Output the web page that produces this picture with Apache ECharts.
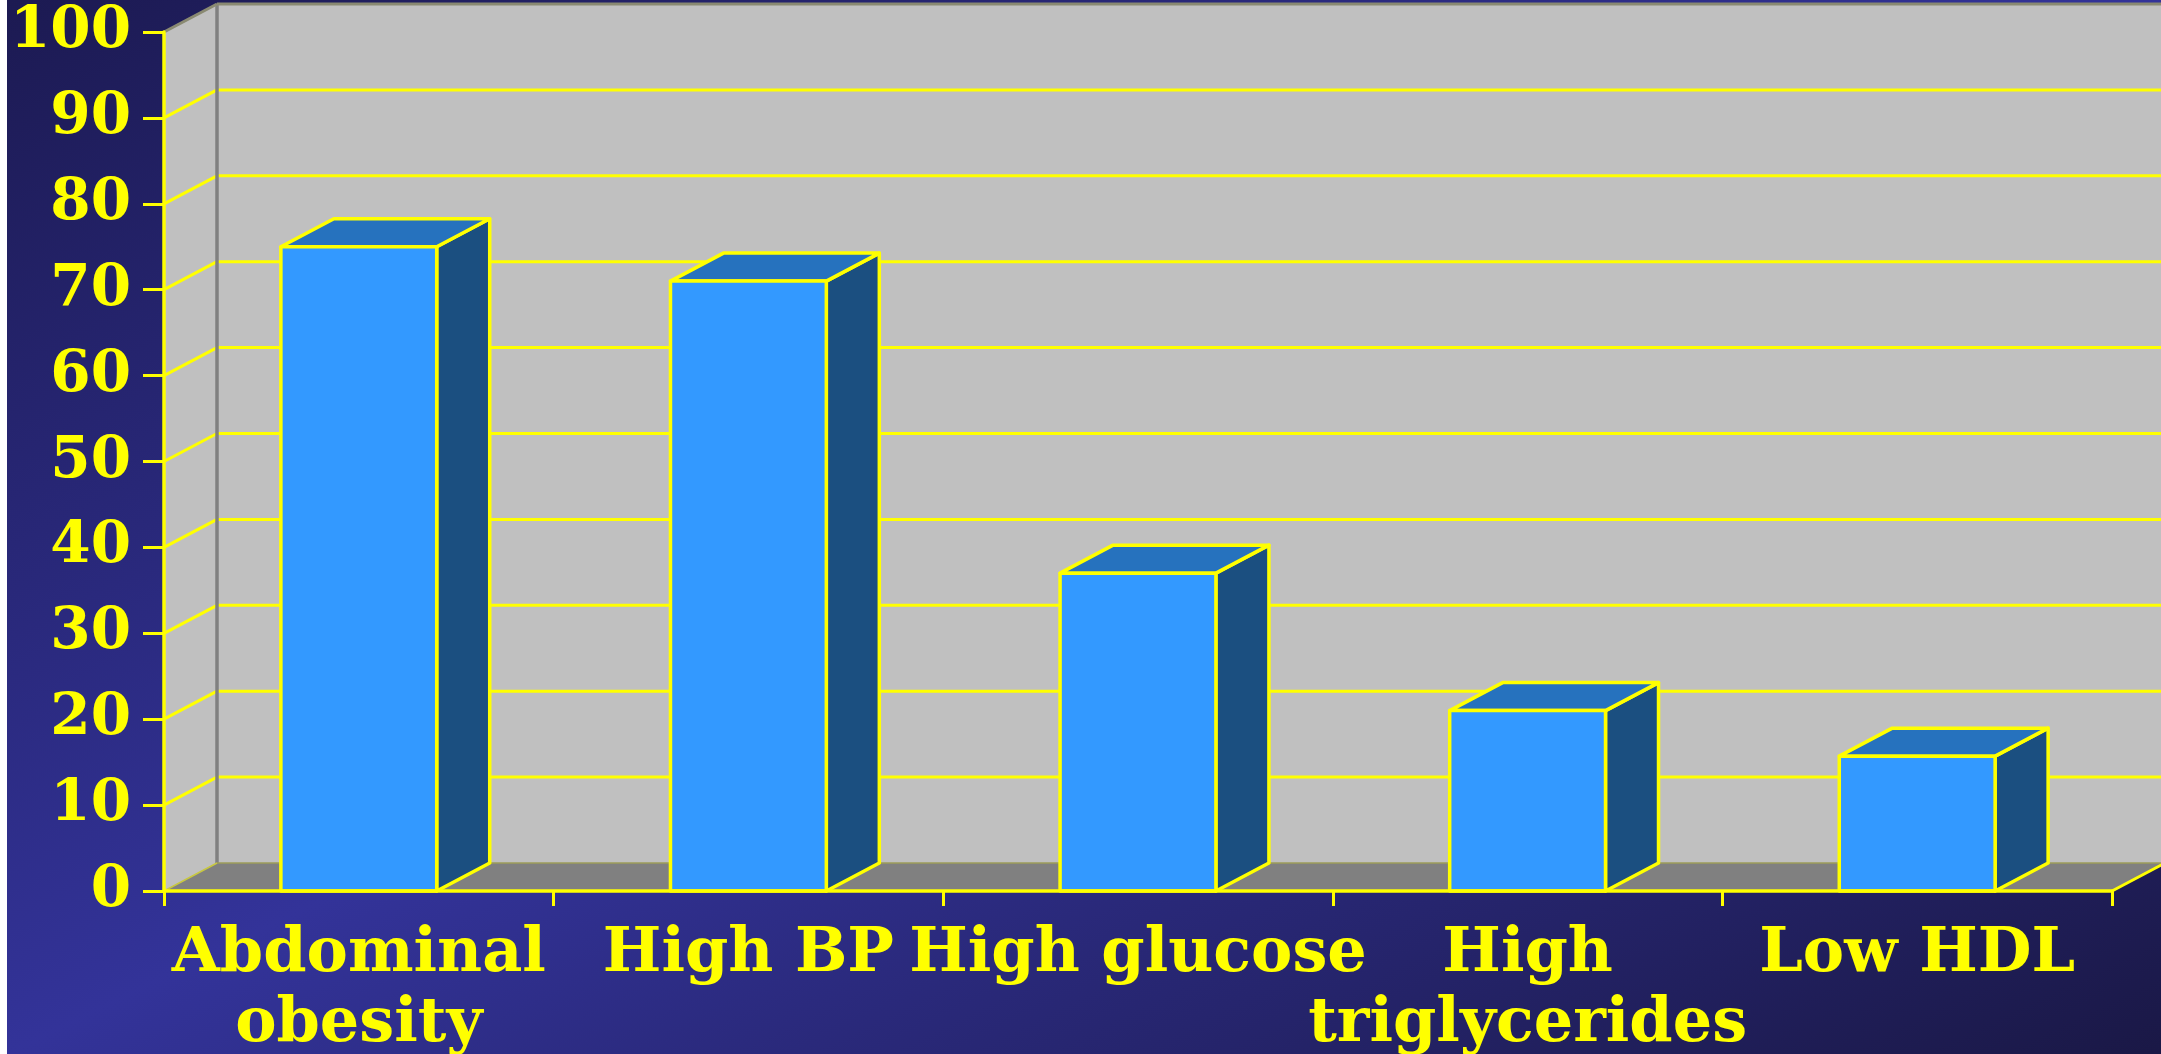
<!DOCTYPE html>
<html>
<head>
<meta charset="utf-8">
<script src="https://cdn.jsdelivr.net/npm/echarts@6/dist/echarts.min.js"></script>
<style>
html,body{margin:0;padding:0;background:#ffffff;overflow:hidden;width:2161px;height:1054px}
#chart{position:absolute;left:7px;top:0;width:2154px;height:1054px}
</style>
</head>
<body>
<div id="chart"></div>
<script>
// ---- data ----
const categories = ['Abdominal\nobesity', 'High BP', 'High glucose', 'High\ntriglycerides', 'Low HDL'];
const values = [75, 71, 37, 21, 15.7];
const yMin = 0;
const yMax = 100;
const yStep = 10;
const gridValues = [10, 20, 30, 40, 50, 60, 70, 80, 90];

// ---- style constants ----
const DX = 53, DY = 28;           // 3D depth offset
const YELLOW = '#FFFF00';
const FONT = 'DejaVu Serif';

const chart = echarts.init(document.getElementById('chart'), null, {renderer: 'canvas'});

function renderWalls(params, api) {
  const cs = params.coordSys;
  const x0 = cs.x, x1 = cs.x + cs.width;
  const yb = api.coord([0, yMin])[1];
  const yt = api.coord([0, yMax])[1];
  return {
    type: 'group',
    children: [
      {type: 'polygon', shape: {points: [[x0 + DX, yt - DY], [x1 + DX + 10, yt - DY], [x1 + DX + 10, yb - DY], [x0 + DX, yb - DY]]},
       style: {fill: '#C0C0C0'}},
      {type: 'polygon', shape: {points: [[x0, yt], [x0 + DX, yt - DY], [x0 + DX, yb - DY], [x0, yb]]},
       style: {fill: '#C0C0C0'}},
      {type: 'polygon', shape: {points: [[x0, yb], [x1, yb], [x1 + DX, yb - DY], [x0 + DX, yb - DY]]},
       style: {fill: '#808080'}}
    ]
  };
}

function renderGridLine(params, api) {
  const cs = params.coordSys;
  const x0 = cs.x, x1 = cs.x + cs.width;
  const y = api.coord([0, api.value(1)])[1];
  return {
    type: 'group',
    children: [
      {type: 'line', shape: {x1: x0, y1: y, x2: x0 + DX, y2: y - DY}, style: {stroke: YELLOW, lineWidth: 3}},
      {type: 'line', shape: {x1: x0 + DX, y1: y - DY, x2: x1 + DX + 10, y2: y - DY}, style: {stroke: YELLOW, lineWidth: 3}}
    ]
  };
}

function renderEdges(params, api) {
  const cs = params.coordSys;
  const x0 = cs.x, x1 = cs.x + cs.width;
  const yb = api.coord([0, yMin])[1];
  const yt = api.coord([0, yMax])[1];
  return {
    type: 'group',
    children: [
      {type: 'line', shape: {x1: x0 + DX, y1: yt - DY, x2: x0 + DX, y2: yb - DY}, style: {stroke: '#808080', lineWidth: 3.5}},
      {type: 'line', shape: {x1: x0, y1: yt, x2: x0 + DX, y2: yt - DY}, style: {stroke: '#8A8A72', lineWidth: 3}},
      {type: 'line', shape: {x1: x0 + DX, y1: yt - DY, x2: x1 + DX + 10, y2: yt - DY}, style: {stroke: '#8A8A72', lineWidth: 3}},
      {type: 'line', shape: {x1: x0 + DX, y1: yb - DY, x2: x1 + DX + 10, y2: yb - DY}, style: {stroke: '#9C9C5A', lineWidth: 1.5}},
      {type: 'line', shape: {x1: x0, y1: yb, x2: x0 + DX, y2: yb - DY}, style: {stroke: '#C8C840', lineWidth: 1.5}},
      {type: 'line', shape: {x1: x1, y1: yb, x2: x1 + DX, y2: yb - DY}, style: {stroke: YELLOW, lineWidth: 3}}
    ]
  };
}

function renderBar(params, api) {
  const i = api.value(0);
  const v = api.value(1);
  const top = api.coord([i, v]);
  const base = api.coord([i, yMin]);
  const bw = api.size([1, 0])[0] * 0.4;
  const l = top[0] - bw / 2, r = top[0] + bw / 2;
  const t = top[1], b = base[1];
  const stroke = {stroke: YELLOW, lineWidth: 3.5, lineJoin: 'round'};
  return {
    type: 'group',
    children: [
      {type: 'polygon', shape: {points: [[r, t], [r + DX, t - DY], [r + DX, b - DY], [r, b]]},
       style: Object.assign({fill: '#1B4F80'}, stroke)},
      {type: 'polygon', shape: {points: [[l, t], [r, t], [r + DX, t - DY], [l + DX, t - DY]]},
       style: Object.assign({fill: '#2672BE'}, stroke)},
      {type: 'rect', shape: {x: l, y: t, width: bw, height: b - t},
       style: Object.assign({fill: '#3399FF'}, stroke)}
    ]
  };
}

const option = {
  animation: false,
  backgroundColor: {
    type: 'linear', global: true, x: 0, y: 0, x2: 832, y2: 1701,
    colorStops: [
      {offset: 0, color: '#1C1A52'},
      {offset: 0.5, color: '#333399'},
      {offset: 1, color: '#1A1846'}
    ]
  },
  grid: {left: 157, right: 49, top: 32, bottom: 163, outerBoundsMode: 'none', containLabel: false},
  xAxis: {
    type: 'category',
    data: categories,
    z: 10,
    boundaryGap: true,
    axisLine: {show: true, lineStyle: {color: YELLOW, width: 3.5}},
    axisTick: {show: true, length: 15, interval: 0, lineStyle: {color: YELLOW, width: 3}},
    axisLabel: {
      interval: 0, color: YELLOW, fontFamily: FONT, fontWeight: 'bold', fontSize: 62,
      lineHeight: 70, margin: 29, hideOverlap: false
    },
    splitLine: {show: false}
  },
  yAxis: {
    type: 'value',
    min: yMin, max: yMax, interval: yStep,
    z: 10,
    axisLine: {show: true, lineStyle: {color: YELLOW, width: 3.5}},
    axisTick: {show: true, length: 21, lineStyle: {color: YELLOW, width: 3}},
    axisLabel: {color: YELLOW, fontFamily: FONT, fontWeight: 'bold', fontSize: 58, margin: 33},
    splitLine: {show: false}
  },
  series: [
    {type: 'custom', name: 'walls', z: 1, silent: true, clip: false, renderItem: renderWalls,
     data: [[0, yMin]], encode: {x: 0, y: 1}},
    {type: 'custom', name: 'gridlines', z: 2, silent: true, clip: false, renderItem: renderGridLine,
     data: gridValues.map(v => [0, v]), encode: {x: 0, y: 1}},
    {type: 'custom', name: 'edges', z: 3, silent: true, clip: false, renderItem: renderEdges,
     data: [[0, yMin]], encode: {x: 0, y: 1}},
    {type: 'custom', name: 'Prevalence', z: 4, clip: false, renderItem: renderBar,
     data: values.map((v, i) => [i, v]), encode: {x: 0, y: 1}}
  ]
};
chart.setOption(option);
</script>
</body>
</html>
